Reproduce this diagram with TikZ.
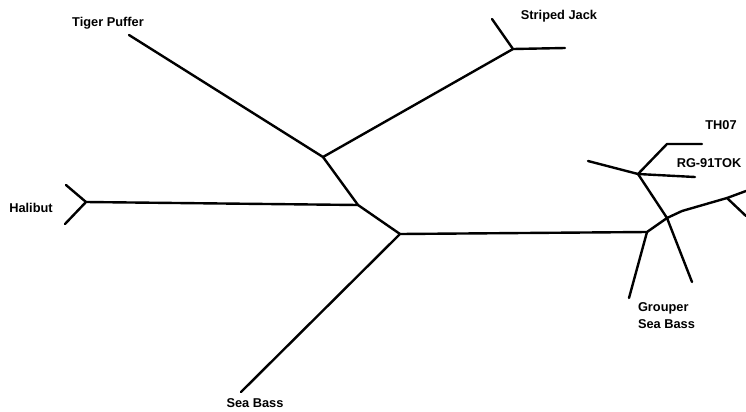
\documentclass[tikz,border=0pt]{standalone}
\usepackage{fontspec}
\setmainfont{Liberation Sans}
\usetikzlibrary{positioning}

\tikzset{
   branch/.style={line width=1.8pt, line cap=round, line join=round},
   taxon/.style={inner sep=0pt, outer sep=0pt, font=\fontsize{9.6}{12.5}\selectfont\bfseries},
}

\begin{document}
\begin{tikzpicture}[x=0.75pt,y=-0.75pt]
   \useasboundingbox (0,0) rectangle (746,411);

   % inner junctions
   \coordinate (A) at (323,157);
   \coordinate (B) at (358,205);
   \coordinate (C) at (400,234);
   \coordinate (D) at (647,232);
   \coordinate (E) at (667,218);
   \coordinate (F) at (638,174);
   \coordinate (G) at (727,198);
   \coordinate (H) at (86,202);
   \coordinate (J) at (513,49);

   % leaf ends
   \coordinate (tp) at (129,35);
   \coordinate (h1) at (66,185);
   \coordinate (h2) at (65,224);
   \coordinate (sj1) at (492,19);
   \coordinate (sj2) at (565,48);
   \coordinate (sb) at (241,392);
   \coordinate (gr) at (629,298);
   \coordinate (e1) at (692,282);
   \coordinate (f1) at (588,161);
   \coordinate (rg) at (695,177);
   \coordinate (th) at (667,144);
   \coordinate (th2) at (702,144);
   \coordinate (bend) at (682,211);
   \coordinate (g1) at (746,191);
   \coordinate (g2) at (746,216);

   % branches
   \draw[branch] (tp) -- (A) -- (J);
   \draw[branch] (sj1) -- (J) -- (sj2);
   \draw[branch] (A) -- (B) -- (C);
   \draw[branch] (H) -- (B);
   \draw[branch] (h1) -- (H) -- (h2);
   \draw[branch] (sb) -- (C) -- (D) -- (E);
   \draw[branch] (D) -- (gr);
   \draw[branch] (F) -- (E) -- (e1);
   \draw[branch] (f1) -- (F) -- (rg);
   \draw[branch] (F) -- (th) -- (th2);
   \draw[branch] (E) -- (bend) -- (G) -- (g1);
   \draw[branch] (G) -- (g2);

   % labels
   \node[taxon] (tiger) at (108,23) {Tiger Puffer};
   \node[taxon] (jack) at (559,16) {Striped Jack};
   \node[taxon] (halibut) at (31,208) {Halibut};
   \node[taxon] (th07) at (721,125) {TH07};
   \node[taxon] (rg91) at (709,163) {RG-91TOK};
   \node[taxon, align=left, anchor=north west] (grouper) at (638,303) {Grouper\\Sea Bass};
   \node[taxon] (seabass) at (255,403) {Sea Bass};
\end{tikzpicture}
\end{document}
